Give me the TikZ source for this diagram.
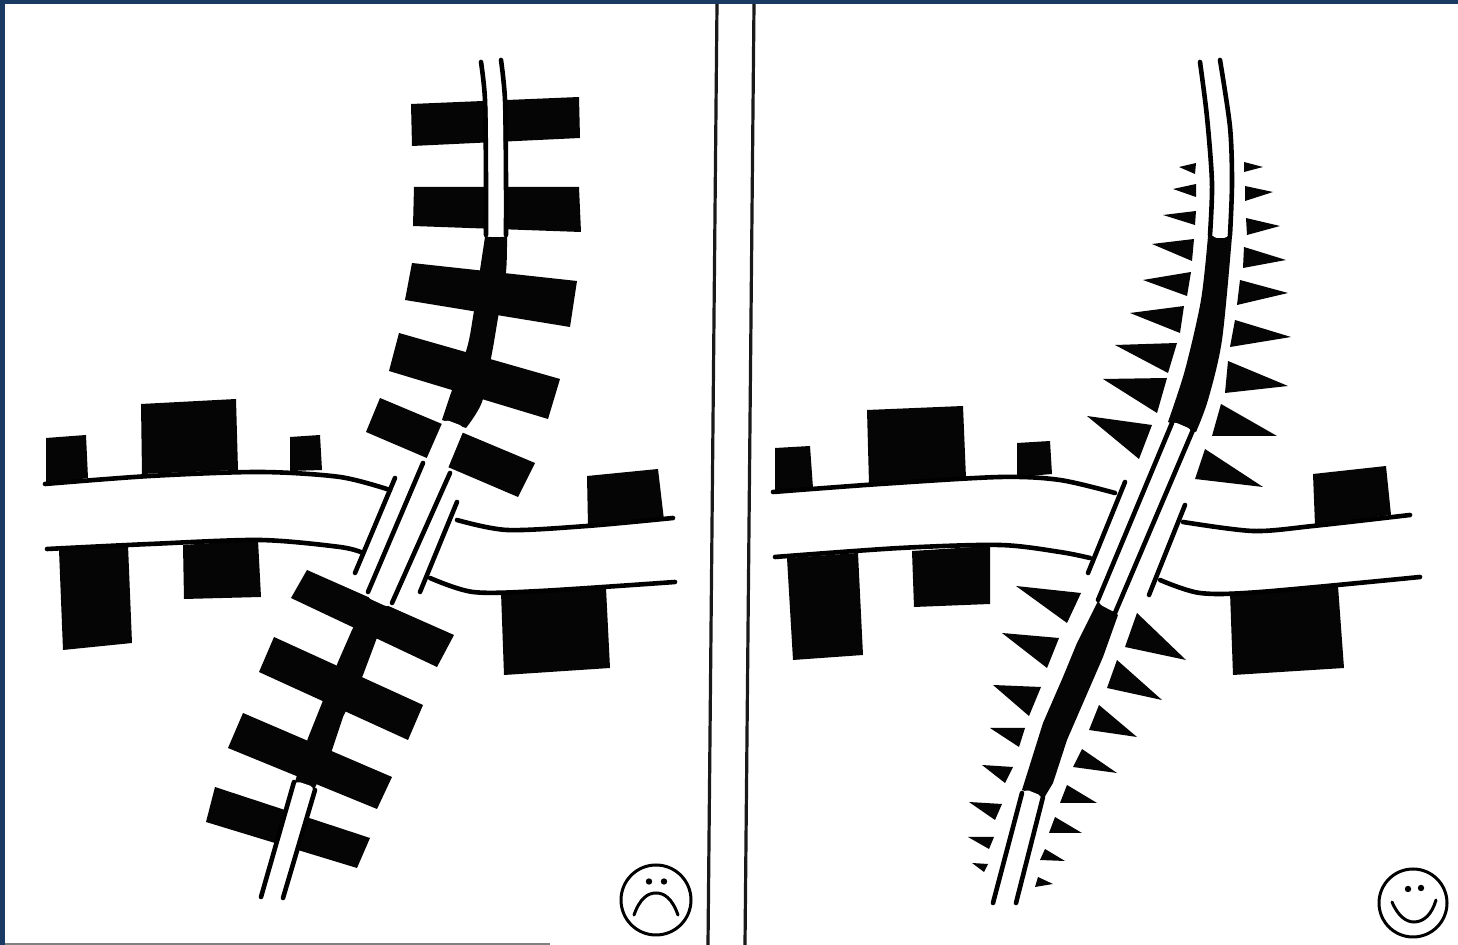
\documentclass[tikz,border=0pt]{standalone}
\usepackage{xcolor}
\usepackage{tikz}

\definecolor{framenavy}{HTML}{1B3A63}

\begin{document}
\begin{tikzpicture}[
    x=0.5pt, y=-0.5pt,
    building/.style={fill=black!98, line join=round},
    lane/.style={fill=white},
    kerb/.style={draw=black, line width=2.3pt, line cap=round},
    divider/.style={draw=black!90, line width=1.6pt},
    faceline/.style={draw=black, line width=1.5pt, line cap=round}
]

\useasboundingbox (0,0) rectangle (1458,945);
\fill[framenavy] (0,0) rectangle (1458,945);
\fill[white] (5,4) rectangle (1458,945);
\draw[gray, line width=0.7pt] (5,944) -- (550,944);

\draw[divider] (717,4) -- (708,945);
\draw[divider] (754,4) -- (745,945);

% left panel, houses along the cross street
\fill[building] (46,438) -- (86,435) -- (88,478) -- (46,484) -- cycle;
\fill[building] (141,404) -- (236,399) -- (238,470) -- (142,474) -- cycle;
\fill[building] (290,437) -- (320,435) -- (322,470) -- (290,471) -- cycle;
\fill[building] (59,550) -- (128,545) -- (132,643) -- (63,650) -- cycle;
\fill[building] (183,545) -- (258,540) -- (261,597) -- (184,599) -- cycle;
\fill[building] (587,476) -- (658,469) -- (664,520) -- (588,526) -- cycle;
\fill[building] (501,592) -- (606,588) -- (610,668) -- (504,675) -- cycle;

% left panel, blocks along the main road
\fill[building] (411,104) -- (579,97) -- (580,138) -- (412,146) -- cycle;
\fill[building] (414,187) -- (579,187) -- (581,232) -- (413,226) -- cycle;
\fill[building] (412,263) -- (577,281) -- (570,327) -- (405,300) -- cycle;
\fill[building] (399,333) -- (560,379) -- (548,419) -- (389,371) -- cycle;
\fill[building] (380,398) -- (535,463) -- (518,497) -- (366,432) -- cycle;
\fill[building] (307,570) -- (454,635) -- (437,667) -- (291,598) -- cycle;
\fill[building] (274,637) -- (423,705) -- (408,740) -- (259,672) -- cycle;
\fill[building] (243,713) -- (392,777) -- (377,809) -- (228,748) -- cycle;
\fill[building] (215,787) -- (370,838) -- (357,868) -- (206,822) -- cycle;

\fill[building] plot[smooth] coordinates {(485,237) (480,270) (473,317) (467,348) (451,393) (442,420)}
    -- plot[smooth] coordinates {(466,428) (482,402) (492,353) (498,318) (506,272) (507,237)} -- cycle;
\fill[building] (368,600) -- (388,608) -- (375,643) -- (363,675) -- (343,717) -- (332,750) -- (314,790)
    -- (295,782) -- (308,738) -- (322,703) -- (338,662) -- (352,630) -- cycle;

\fill[lane] plot[smooth] coordinates {(483,62) (487,100) (488,180) (487,232)}
    [rounded corners=2pt] -- (488,237) -- (504,237)
    -- plot[smooth] coordinates {(504,180) (503,100) (500,62)} -- cycle;
\fill[lane, rounded corners=3pt] (444,419) -- (465,427) -- (390,608) -- (366,597) -- cycle;
\fill[lane, rounded corners=2pt] (296,781) -- (314,787) -- (282,898) -- (262,895) -- cycle;

\draw[kerb] plot[smooth] coordinates {(481,62) (485,100) (486,180) (486,235)};
\draw[kerb] plot[smooth] coordinates {(501,60) (505,100) (506,180) (506,235)};
\draw[kerb] (423,463) -- (368,592);
\draw[kerb] (450,473) -- (392,603);
\draw[kerb] (294,782) -- (261,897);
\draw[kerb] (315,790) -- (283,898);

% left panel, cross street
\draw[kerb] (395,478) -- (355,573);
\draw[kerb] (457,502) -- (420,592);
\draw[kerb] plot[smooth] coordinates {(45,484) (150,476) (260,472) (340,477) (390,490)};
\draw[kerb] plot[smooth] coordinates {(47,549) (150,544) (260,540) (340,547) (363,553)};
\draw[kerb] plot[smooth] coordinates {(457,520) (507,530) (587,526) (673,518)};
\draw[kerb] plot[smooth] coordinates {(430,578) (473,592) (540,591) (675,582)};

% left panel, face
\draw[faceline] (656,900) circle (35);
\fill (649,881.5) circle (3.2);
\fill (664,881.5) circle (3.2);
\draw[faceline] (634,915) .. controls (640,898) and (648,893) .. (656,893)
    .. controls (664,893) and (672,898) .. (678,915);

% right panel, houses along the cross street
\fill[building] (775,448) -- (810,446) -- (813,488) -- (775,493) -- cycle;
\fill[building] (867,410) -- (963,406) -- (966,478) -- (869,484) -- cycle;
\fill[building] (1017,443) -- (1050,441) -- (1052,474) -- (1017,477) -- cycle;
\fill[building] (787,558) -- (858,553) -- (863,655) -- (793,660) -- cycle;
\fill[building] (912,551) -- (990,546) -- (990,604) -- (914,607) -- cycle;
\fill[building] (1313,474) -- (1386,466) -- (1391,515) -- (1315,525) -- cycle;
\fill[building] (1230,592) -- (1338,586) -- (1344,668) -- (1233,675) -- cycle;

% right panel, wedges on the upper left
\fill[building] (1179,167) -- (1196,163) -- (1195,174) -- cycle;
\fill[building] (1173,189) -- (1196,184) -- (1196,197) -- cycle;
\fill[building] (1163,215) -- (1196,211) -- (1195,225) -- cycle;
\fill[building] (1152,244) -- (1194,239) -- (1192,261) -- cycle;
\fill[building] (1143,280) -- (1191,272) -- (1187,296) -- cycle;
\fill[building] (1130,313) -- (1184,306) -- (1180,333) -- cycle;
\fill[building] (1115,345) -- (1177,343) -- (1168,373) -- cycle;
\fill[building] (1103,379) -- (1167,378) -- (1157,413) -- cycle;
\fill[building] (1087,416) -- (1152,425) -- (1139,459) -- cycle;

% right panel, wedges on the upper right
\fill[building] (1244,162) -- (1263,167) -- (1244,172) -- cycle;
\fill[building] (1245,186) -- (1273,192) -- (1245,201) -- cycle;
\fill[building] (1246,218) -- (1280,226) -- (1247,235) -- cycle;
\fill[building] (1244,247) -- (1286,260) -- (1243,268) -- cycle;
\fill[building] (1240,280) -- (1288,293) -- (1237,305) -- cycle;
\fill[building] (1235,320) -- (1291,337) -- (1230,347) -- cycle;
\fill[building] (1228,361) -- (1288,386) -- (1225,393) -- cycle;
\fill[building] (1221,404) -- (1277,436) -- (1212,436) -- cycle;
\fill[building] (1205,449) -- (1263,487) -- (1195,479) -- cycle;

% right panel, wedges on the lower left
\fill[building] (1016,586) -- (1081,593) -- (1067,623) -- cycle;
\fill[building] (1002,633) -- (1059,638) -- (1047,668) -- cycle;
\fill[building] (993,685) -- (1041,687) -- (1029,716) -- cycle;
\fill[building] (990,728) -- (1025,728) -- (1019,747) -- cycle;
\fill[building] (982,765) -- (1013,767) -- (1005,783) -- cycle;
\fill[building] (969,802) -- (1002,804) -- (995,820) -- cycle;
\fill[building] (968,837) -- (994,837) -- (989,849) -- cycle;
\fill[building] (972,863) -- (988,864) -- (984,872) -- cycle;

% right panel, wedges on the lower right
\fill[building] (1137,613) -- (1186,660) -- (1125,647) -- cycle;
\fill[building] (1117,660) -- (1162,700) -- (1107,688) -- cycle;
\fill[building] (1099,705) -- (1137,737) -- (1089,730) -- cycle;
\fill[building] (1082,749) -- (1117,773) -- (1073,767) -- cycle;
\fill[building] (1067,785) -- (1097,803) -- (1060,803) -- cycle;
\fill[building] (1055,817) -- (1082,833) -- (1049,833) -- cycle;
\fill[building] (1045,849) -- (1065,861) -- (1040,860) -- cycle;
\fill[building] (1038,877) -- (1053,884) -- (1035,887) -- cycle;

% right panel, main road
\fill[building] plot[smooth] coordinates {(1208,236) (1201,300) (1185,370) (1168,422)}
    -- plot[smooth] coordinates {(1196,432) (1208,400) (1222,340) (1232,236)} -- cycle;
\fill[building] (1098,601) -- (1077,643) -- (1063,677) -- (1043,723) -- (1022,790)
    -- (1044,798) -- (1053,783) -- (1067,740) -- (1080,710) -- (1103,657) -- (1118,615) -- cycle;

\fill[lane] plot[smooth] coordinates {(1202,62) (1209,117) (1214,183) (1212,232)}
    [rounded corners=2pt] -- (1213,238) -- (1228,238)
    -- plot[smooth] coordinates {(1230,183) (1228,127) (1218,60)} -- cycle;
\fill[lane, rounded corners=3pt] (1172,421) -- (1193,430) -- (1116,613) -- (1097,603) -- cycle;
\fill[lane, rounded corners=2pt] (1025,789) -- (1042,796) -- (1015,903) -- (994,903) -- cycle;

\draw[kerb] plot[smooth] coordinates {(1200,62) (1207,117) (1212,183) (1210,235)};
\draw[kerb] plot[smooth] coordinates {(1220,60) (1230,127) (1232,183) (1230,235)};
\draw[kerb] (1172,423) -- (1098,600);
\draw[kerb] (1193,430) -- (1115,613);
\draw[kerb] (1022,793) -- (993,903);
\draw[kerb] (1043,797) -- (1016,903);

% right panel, cross street
\draw[kerb] (1125,482) -- (1088,573);
\draw[kerb] (1185,505) -- (1149,595);
\draw[kerb] plot[smooth] coordinates {(773,492) (880,484) (1000,477) (1060,480) (1115,493)};
\draw[kerb] plot[smooth] coordinates {(775,557) (900,548) (1000,545) (1060,552) (1090,558)};
\draw[kerb] plot[smooth] coordinates {(1183,522) (1253,531) (1313,526) (1410,515)};
\draw[kerb] plot[smooth] coordinates {(1160,580) (1200,593) (1260,592) (1420,577)};

% right panel, face
\draw[faceline] (1413,903) circle (34);
\fill (1408,889) circle (3.2);
\fill (1421,888) circle (3.2);
\draw[faceline] (1392,902) .. controls (1398,916) and (1406,922) .. (1414,922)
    .. controls (1424,922) and (1432,914) .. (1436,900);

\end{tikzpicture}
\end{document}
